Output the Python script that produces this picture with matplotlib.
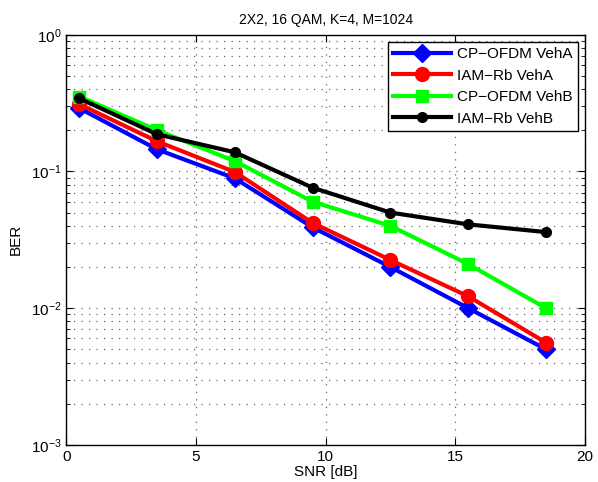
import matplotlib
matplotlib.use("Agg")
import matplotlib.pyplot as plt
from matplotlib.ticker import LogLocator, NullFormatter

plt.rcParams['font.family'] = ['Liberation Sans', 'DejaVu Sans']

snr = [0.5, 3.5, 6.5, 9.5, 12.5, 15.5, 18.5]
cp_veha = [0.29, 0.145, 0.089, 0.039, 0.020, 0.0100, 0.0050]
iam_veha = [0.31, 0.166, 0.099, 0.042, 0.0225, 0.0122, 0.0056]
cp_vehb = [0.353, 0.20, 0.119, 0.060, 0.040, 0.021, 0.0100]
iam_vehb = [0.342, 0.187, 0.138, 0.076, 0.050, 0.041, 0.036]

fig = plt.figure(figsize=(5.98, 4.82), dpi=100)
ax = fig.add_axes([0.111, 0.077, 0.867, 0.851])

ax.semilogy(snr, cp_veha, '-', color='blue', lw=3, marker='D', ms=9, label='CP\u2212OFDM VehA')
ax.semilogy(snr, iam_veha, '-', color='red', lw=3, marker='o', ms=10, label='IAM\u2212Rb VehA')
ax.semilogy(snr, cp_vehb, '-', color='#00ff00', lw=3, marker='s', ms=8, label='CP\u2212OFDM VehB')
ax.semilogy(snr, iam_vehb, '-', color='black', lw=3, marker='o', ms=7, label='IAM\u2212Rb VehB')

ax.set_xlim(0, 20)
ax.set_ylim(1e-3, 1)
ax.set_xticks([0, 5, 10, 15, 20])
ax.yaxis.set_major_locator(LogLocator(base=10, numticks=10))
ax.yaxis.set_minor_locator(LogLocator(base=10, subs=range(2, 10), numticks=10))
ax.yaxis.set_minor_formatter(NullFormatter())

gridkw = dict(linestyle=(0, (1, 5)), color='#666666', lw=0.9)
ax.grid(True, which='major', axis='both', **gridkw)
ax.grid(True, which='minor', axis='y', **gridkw)
ax.tick_params(which='major', direction='in', top=True, right=True, labelsize=11, length=5)
ax.tick_params(which='minor', direction='in', top=True, right=True, length=3)
for s in ax.spines.values():
    s.set_linewidth(1.0)

ax.set_xlabel('SNR [dB]', fontsize=11, labelpad=1)
ax.set_ylabel('BER', fontsize=11, labelpad=6)
ax.set_title('2X2, 16 QAM, K=4, M=1024', fontsize=10, pad=8)

leg = ax.legend(loc='upper right', fontsize=11, fancybox=False, framealpha=1,
                edgecolor='black', handlelength=3.8, borderaxespad=0.45,
                handletextpad=0.4, labelspacing=0.5, borderpad=0.35)
leg.get_frame().set_linewidth(1.0)

fig.savefig('out.png', dpi=100)
